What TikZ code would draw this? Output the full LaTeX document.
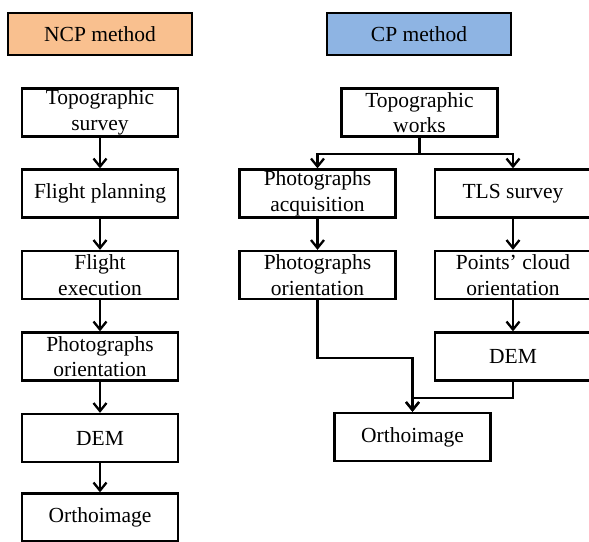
\documentclass[tikz,border=0pt]{standalone}
\usepackage{fontspec}
\setmainfont{Liberation Serif}
\usetikzlibrary{arrows.meta}
\definecolor{ncpfill}{HTML}{F9C08F}
\definecolor{cpfill}{HTML}{8EB4E3}
\tikzset{
  stepbox/.style={draw, line width=2.3pt, fill=white, minimum width=156pt, minimum height=48pt,
    inner sep=0pt, align=center, font=\fontsize{21.5}{25.5}\selectfont},
  headbox/.style={stepbox, minimum width=184pt, minimum height=42pt},
  flow/.style={line width=2.3pt, -{Straight Barb[length=8pt, width=13pt, line width=2.3pt]}}
}
\begin{document}
\begin{tikzpicture}[x=1pt, y=-1pt]
\useasboundingbox (0,0) rectangle (589,541);
% headers
\node[headbox, fill=ncpfill] (ncp) at (100,34) {NCP method};
\node[headbox, fill=cpfill] (cp) at (419,34) {CP method};
% NCP method
\node[stepbox] (survey) at (100,112.5) {Topographic\\survey};
\node[stepbox] (planning) at (100,193.5) {Flight planning};
\node[stepbox] (execution) at (100,275) {Flight\\execution};
\node[stepbox] (orientL) at (100,356.5) {Photographs\\orientation};
\node[stepbox] (demL) at (100,438) {DEM};
\node[stepbox] (orthoL) at (100,517.5) {Orthoimage};
\draw[flow] (survey) -- (planning);
\draw[flow] (planning) -- (execution);
\draw[flow] (execution) -- (orientL);
\draw[flow] (orientL) -- (demL);
\draw[flow] (demL) -- (orthoL);
% CP method
\node[stepbox] (works) at (419.5,112.5) {Topographic\\works};
\node[stepbox] (acquisition) at (317.5,193.5) {Photographs\\acquisition};
\node[stepbox] (orientR) at (317.5,275) {Photographs\\orientation};
\node[stepbox] (tls) at (513,193.5) {TLS survey};
\node[stepbox] (cloud) at (513,275) {Points’ cloud\\orientation};
\node[stepbox] (demR) at (513,356.5) {DEM};
\node[stepbox] (orthoR) at (412.5,437) {Orthoimage};
\draw[flow] (works.south) -- ++(0,16) -| (acquisition.north);
\draw[flow] (works.south) -- ++(0,16) -| (tls.north);
\draw[flow] (acquisition) -- (orientR);
\draw[flow] (tls) -- (cloud);
\draw[flow] (cloud) -- (demR);
\draw[flow] (orientR.south) -- ++(0,57.5) -| (orthoR.north);
\draw[flow] (demR.south) -- ++(0,16.5) -| (orthoR.north);
\end{tikzpicture}
\end{document}
